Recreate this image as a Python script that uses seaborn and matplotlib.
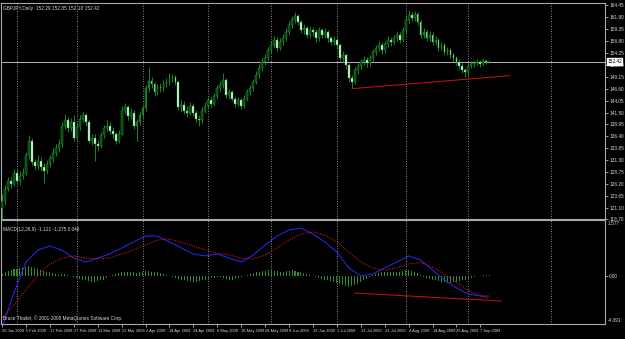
import matplotlib
matplotlib.use("Agg")
import matplotlib.pyplot as plt
import numpy as np
import pandas as pd
import seaborn as sns

# ---------------- data ----------------
title_text = "GBPJPY,Daily  152.29 152.85 152.18 152.42"
macd_text = "MACD(12,26,9) -1.121 -1.275 0.046"
copyright_text = "Bruce Thailer, \u00a9 2001-2008 MetaQuotes Software Corp."

first_open = 121.0
closes = [
    122.6, 125.2, 126.9, 126.2, 128.6, 126.9, 128.0, 128.6,
    132.3, 135.5, 130.8, 130.1, 131.2, 129.9, 129.0, 130.5,
    131.6, 132.9, 133.8, 134.8, 138.7, 139.8, 138.1, 139.4,
    136.1, 138.5, 140.2, 140.9, 139.4, 135.5, 136.1, 134.8,
    134.4, 136.6, 138.1, 138.7, 137.6, 136.8, 135.5, 137.0,
    141.9, 142.6, 140.7, 141.5, 138.7, 139.4, 140.9, 142.4,
    146.7, 148.2, 147.5, 145.8, 146.9, 146.7, 147.5, 148.0,
    148.6, 149.0, 148.0, 142.6, 143.2, 141.9, 141.5, 143.0,
    141.5, 140.2, 139.8, 141.9, 143.0, 144.1, 143.4, 145.0,
    146.7, 147.3, 148.4, 145.2, 145.8, 144.5, 143.4, 144.1,
    143.0, 144.5, 145.8, 146.7, 148.0, 149.5, 151.0, 152.3,
    153.1, 154.8, 155.9, 157.0, 155.3, 156.6, 157.4, 158.7,
    160.2, 161.3, 162.2, 160.9, 159.1, 159.6, 158.1, 159.1,
    158.7, 157.4, 159.1, 158.1, 158.7, 157.4, 156.6, 157.0,
    155.9, 153.1, 153.8, 151.6, 148.8, 148.0, 150.5, 151.4,
    152.3, 152.7, 152.0, 153.1, 154.4, 155.3, 155.9, 154.8,
    156.1, 157.0, 156.6, 157.4, 158.1, 157.0, 159.1, 161.3,
    162.4, 161.7, 162.6, 160.9, 158.1, 158.7, 157.4, 158.1,
    156.6, 157.0, 155.3, 155.9, 154.4, 154.8, 153.8, 153.1,
    152.3, 151.4, 150.5, 150.1, 151.4, 151.8, 152.0, 152.3,
    151.8, 152.5, 152.29, 152.42,
]
highs = [
    124.1, 125.9, 127.8, 127.6, 129.4, 129.3, 128.9, 129.7,
    133.0, 136.6, 136.1, 131.6, 132.4, 131.9, 130.6, 131.4,
    132.5, 133.8, 134.7, 135.9, 139.5, 141.2, 140.5, 140.3,
    140.9, 139.2, 141.0, 141.7, 141.4, 139.9, 137.0, 136.8,
    135.6, 137.4, 138.9, 139.8, 139.4, 138.3, 137.3, 137.8,
    142.8, 143.5, 143.2, 142.4, 142.0, 140.2, 141.6, 143.2,
    147.4, 151.2, 149.0, 148.1, 147.7, 147.8, 148.4, 148.9,
    149.9, 149.8, 149.6, 148.5, 144.1, 143.9, 142.9, 143.8,
    143.6, 142.1, 141.0, 142.6, 143.8, 144.9, 144.8, 145.7,
    147.4, 148.2, 149.9, 148.9, 146.6, 146.3, 145.1, 144.8,
    144.7, 145.2, 146.5, 147.4, 148.7, 150.3, 151.8, 153.1,
    154.0, 155.6, 156.8, 157.9, 157.7, 157.4, 158.3, 159.6,
    161.0, 162.1, 163.0, 162.7, 161.4, 160.5, 160.1, 159.9,
    159.8, 159.3, 159.9, 159.7, 159.5, 159.2, 157.9, 157.8,
    157.6, 156.4, 154.6, 154.2, 152.1, 149.5, 151.2, 152.2,
    153.0, 153.5, 153.4, 153.9, 155.2, 156.0, 156.8, 156.5,
    156.9, 157.8, 157.7, 158.2, 158.9, 158.7, 159.9, 162.0,
    163.4, 163.1, 163.3, 163.0, 161.4, 159.6, 159.3, 158.9,
    158.7, 157.8, 157.5, 156.7, 156.4, 155.6, 155.3, 154.3,
    153.6, 152.9, 152.0, 151.1, 152.1, 152.6, 152.8, 153.0,
    152.7, 153.1, 153.0, 152.85,
]
lows = [
    118.9, 122.0, 124.6, 125.4, 125.8, 126.2, 125.9, 127.2,
    128.1, 131.6, 130.2, 129.2, 129.5, 129.0, 126.5, 128.4,
    129.8, 131.0, 132.1, 133.0, 134.2, 138.0, 137.4, 137.5,
    135.5, 135.6, 137.8, 139.5, 138.6, 134.9, 134.6, 131.2,
    133.3, 133.9, 136.0, 137.5, 136.9, 136.0, 134.7, 134.9,
    136.6, 141.2, 140.0, 140.1, 138.0, 135.5, 138.8, 140.3,
    141.9, 146.0, 146.8, 145.1, 145.2, 145.9, 146.1, 146.9,
    147.4, 148.0, 147.3, 142.0, 141.7, 141.2, 140.6, 140.9,
    140.8, 139.5, 138.7, 139.3, 141.3, 142.4, 142.7, 142.9,
    144.5, 146.1, 146.8, 144.6, 144.5, 143.9, 142.7, 142.8,
    142.2, 142.5, 144.0, 145.2, 146.2, 147.5, 148.9, 150.4,
    151.6, 152.6, 154.2, 155.3, 154.6, 154.8, 155.9, 156.9,
    158.1, 159.6, 160.6, 160.2, 158.5, 158.4, 157.4, 157.5,
    157.9, 156.7, 156.9, 157.4, 157.5, 156.7, 155.9, 155.9,
    155.2, 152.5, 152.4, 150.9, 148.1, 146.7, 147.5, 149.8,
    150.8, 151.6, 151.3, 151.5, 152.6, 153.8, 154.7, 154.1,
    154.3, 155.5, 155.8, 156.0, 156.8, 156.3, 156.5, 158.6,
    160.7, 161.0, 161.1, 160.2, 157.5, 157.5, 156.8, 156.9,
    155.9, 156.0, 154.7, 154.8, 153.8, 153.8, 153.1, 152.4,
    151.6, 150.8, 149.9, 149.0, 149.6, 151.0, 151.3, 151.6,
    151.2, 151.4, 151.8, 152.18,
]

price_ticks = [164.45, 161.90, 159.35, 156.80, 154.25, 151.70, 149.15, 146.60,
               144.05, 141.50, 138.95, 136.40, 133.85, 131.30, 128.75, 126.20,
               123.65, 121.10, 118.70]
current_price = 152.42

date_labels = ["26 Jan 2009", "5 Feb 2009", "17 Feb 2009", "27 Feb 2009", "11 Mar 2009",
               "23 Mar 2009", "2 Apr 2009", "14 Apr 2009", "24 Apr 2009", "6 May 2009",
               "18 May 2009", "28 May 2009", "9 Jun 2009", "19 Jun 2009", "1 Jul 2009",
               "13 Jul 2009", "23 Jul 2009", "4 Aug 2009", "14 Aug 2009", "26 Aug 2009",
               "7 Sep 2009"]
date_bars = list(range(0, 161, 8))
grid_bars = [5, 25, 47, 69, 90, 112, 135, 156, 183.6]

macd_bars = [0, 4, 8, 12, 16, 20, 24, 28, 32, 36, 40, 44, 48, 52, 56, 60, 64, 68, 72, 76,
             80, 84, 88, 92, 96, 100, 104, 108, 112, 116, 120, 124, 128, 132, 136, 140,
             144, 148, 152, 156, 160, 163]
macd_main = [-2.85, -0.95, 0.78, 1.45, 1.67, 1.45, 1.00, 0.78, 1.00, 1.23, 1.56, 1.90,
             2.23, 2.23, 1.90, 1.56, 1.23, 1.12, 1.23, 1.00, 0.78, 1.17, 1.73, 2.23,
             2.57, 2.68, 2.34, 1.90, 1.34, 0.45, 0.00, 0.11, 0.45, 0.78, 1.12, 0.89,
             0.33, -0.22, -0.67, -1.00, -1.12, -1.121]
macd_signal = [-2.34, -1.62, -0.78, 0.06, 0.67, 1.00, 1.12, 1.00, 0.95, 1.00, 1.23, 1.45,
               1.73, 2.01, 2.06, 1.90, 1.67, 1.45, 1.28, 1.17, 1.00, 0.95, 1.17, 1.56,
               2.01, 2.34, 2.46, 2.29, 1.90, 1.34, 0.78, 0.45, 0.33, 0.45, 0.67, 0.75,
               0.50, 0.10, -0.35, -0.80, -1.10, -1.275]
macd_hist = [
    0.10, 0.20, 0.30, 0.35, 0.40, 0.40, 0.45, 0.45,
    0.50, 0.55, 0.50, 0.45, 0.40, 0.35, 0.30, 0.25,
    0.20, 0.15, 0.10, 0.05, 0.10, 0.10, 0.05, 0.00,
    -0.05, -0.10, -0.15, -0.20, -0.25, -0.30, -0.35, -0.35,
    -0.30, -0.25, -0.20, -0.10, 0.00, 0.05, 0.10, 0.15,
    0.20, 0.25, 0.25, 0.20, 0.20, 0.15, 0.20, 0.25,
    0.30, 0.30, 0.25, 0.20, 0.20, 0.15, 0.10, 0.05,
    0.00, -0.05, -0.10, -0.15, -0.20, -0.25, -0.30, -0.30,
    -0.35, -0.35, -0.30, -0.25, -0.20, -0.15, -0.10, -0.10,
    -0.05, -0.05, -0.10, -0.15, -0.20, -0.20, -0.15, -0.10,
    -0.05, 0.00, 0.05, 0.10, 0.15, 0.20, 0.25, 0.30,
    0.30, 0.35, 0.35, 0.30, 0.30, 0.25, 0.25, 0.30,
    0.30, 0.35, 0.30, 0.25, 0.20, 0.15, 0.10, 0.05,
    0.00, -0.05, -0.10, -0.15, -0.20, -0.25, -0.30, -0.35,
    -0.40, -0.45, -0.50, -0.55, -0.60, -0.55, -0.50, -0.45,
    -0.35, -0.25, -0.15, -0.05, 0.05, 0.10, 0.15, 0.20,
    0.20, 0.25, 0.25, 0.20, 0.20, 0.25, 0.30, 0.35,
    0.35, 0.30, 0.25, 0.15, 0.05, -0.05, -0.10, -0.15,
    -0.20, -0.25, -0.30, -0.35, -0.35, -0.40, -0.40, -0.35,
    -0.35, -0.30, -0.25, -0.20, -0.15, -0.10, -0.05, 0.00,
    0.02, 0.03, 0.04, 0.046,
]
macd_top_label = "1.577"
macd_bottom_label = "-4.091"

trend_main_bars = [117, 170]
trend_main_prices = [146.6, 149.4]
trend_macd_bars = [118, 167]
trend_macd_values = [-0.95, -1.40]

# ---------------- styling ----------------
sns.set_theme(style="dark")
plt.rcParams["font.family"] = ["Liberation Sans", "DejaVu Sans"]
BG = "black"
FG = "#d8d8d8"
FRAME = "#a8a8a8"
GREEN = "#1f9a30"
HIST = "#2e8b2e"
FS = 3.4
FS_DATE = 2.9

n = len(closes)
opens = [first_open] + closes[:-1]
df = pd.DataFrame({"bar": np.arange(n), "open": opens, "high": highs,
                   "low": lows, "close": closes})
df["bottom"] = df[["open", "close"]].min(axis=1)
df["height"] = (df["close"] - df["open"]).abs().clip(lower=0.06)
df["bear"] = df["close"] < df["open"]

fig = plt.figure(figsize=(6.25, 3.39), dpi=100, facecolor=BG)
ax1 = fig.add_axes([1 / 625, 120 / 339, 604 / 625, 216 / 339])
ax2 = fig.add_axes([1 / 625, 15 / 339, 604 / 625, 104 / 339])

xlim = (-0.35, 201.7)
for ax in (ax1, ax2):
    ax.set_facecolor(BG)
    ax.set_xlim(*xlim)
    ax.grid(False)
    for s in ax.spines.values():
        s.set_color(FRAME)
        s.set_linewidth(0.8)
        s.set_visible(True)
    for gb in grid_bars:
        ax.axvline(gb, color="#9a9a9a", lw=0.6, ls=(0, (1.2, 1.8)), zorder=0)

# ---- main panel: candlesticks ----
ax1.vlines(df["bar"], df["low"], df["high"], color=GREEN, lw=0.6, zorder=2)
face = np.where(df["bear"], "#f0fff0", "#0b3d12")
ax1.bar(df["bar"], df["height"], bottom=df["bottom"], width=0.62,
        color=face, edgecolor=GREEN, linewidth=0.35, zorder=3)
ax1.axhline(current_price, color="#b8b8b8", lw=0.7, zorder=1)
sns.lineplot(x=trend_main_bars, y=trend_main_prices, ax=ax1, color="#d01010",
             lw=0.7, zorder=4)
ax1.set_ylim(118.70, 164.95)
ax1.yaxis.tick_right()
ax1.set_yticks(price_ticks)
ax1.set_yticklabels([f"{v:.2f}" for v in price_ticks])
ax1.tick_params(axis="y", colors=FG, labelsize=FS, length=2, width=0.5, pad=1.0,
                direction="out", right=True, left=False)
ax1.tick_params(axis="x", bottom=False, labelbottom=False)
ax1.set_xlabel("")
ax1.set_ylabel("")
ax1.text(0.004, 0.985, title_text, transform=ax1.transAxes, color=FG,
         fontsize=FS, va="top", ha="left")
ax1.text(1.0035, (current_price - 118.70) / (164.95 - 118.70), f"{current_price:.2f}",
         transform=ax1.transAxes, color="black", fontsize=FS, va="center", ha="left",
         bbox=dict(boxstyle="square,pad=0.12", fc="white", ec="white"), zorder=10,
         clip_on=False)

# ---- MACD panel ----
ax2.bar(np.arange(n), macd_hist, width=0.34, color=HIST, edgecolor="none",
        linewidth=0, zorder=2)
sns.lineplot(x=macd_bars, y=macd_main, ax=ax2, color="#2a2aff", lw=0.7, zorder=3)
sns.lineplot(x=macd_bars, y=macd_signal, ax=ax2, color="#d01515", lw=0.8,
             linestyle=(0, (1, 1.2)), zorder=3)
sns.lineplot(x=trend_macd_bars, y=trend_macd_values, ax=ax2, color="#d01010",
             lw=0.7, zorder=4)
ax2.set_ylim(-2.68, 3.125)
ax2.yaxis.tick_right()
ax2.set_yticks([0.0])
ax2.set_yticklabels(["0.00"])
ax2.tick_params(axis="y", colors=FG, labelsize=FS, length=2, width=0.5, pad=1.0,
                right=True, left=False)
ax2.text(1.005, 0.965, macd_top_label, transform=ax2.transAxes, color=FG,
         fontsize=FS, va="center", ha="left", clip_on=False)
ax2.text(1.005, 0.035, macd_bottom_label, transform=ax2.transAxes, color=FG,
         fontsize=FS, va="center", ha="left", clip_on=False)
ax2.set_xticks(date_bars)
ax2.set_xticklabels(date_labels, ha="left")
ax2.tick_params(axis="x", colors=FG, labelsize=FS_DATE, length=2, width=0.5, pad=1.5,
                bottom=True)
ax2.set_xlabel("")
ax2.set_ylabel("")
ax2.text(0.004, 0.93, macd_text, transform=ax2.transAxes, color=FG,
         fontsize=FS, va="top", ha="left")
ax2.text(0.004, 0.03, copyright_text, transform=ax2.transAxes, color=FG,
         fontsize=FS, va="bottom", ha="left")
ax2.set_xlim(*xlim)

fig.savefig("out.png", dpi=100, facecolor=BG)
